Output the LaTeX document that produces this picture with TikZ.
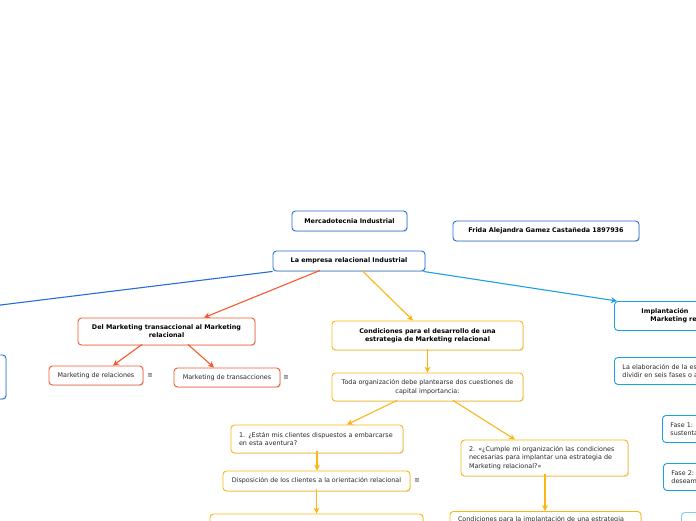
\documentclass[tikz,border=0pt]{standalone}
\usepackage{fontspec}
\setmainfont{DejaVu Sans}
\usetikzlibrary{arrows.meta,shadows}
\definecolor{cblue}{RGB}{38,110,214}
\definecolor{cred}{RGB}{242,90,45}
\definecolor{cyel}{RGB}{250,182,20}
\definecolor{clblue}{RGB}{27,160,226}
\definecolor{cpale}{RGB}{130,205,242}
\definecolor{ctext}{RGB}{40,40,40}
\tikzset{
  box/.style={draw, rounded corners=3.5pt, fill=white, line width=0.9pt, inner sep=0pt,
    text=ctext, font=\fontsize{6.4}{8.2}\selectfont, align=center,
    drop shadow={opacity=0.22, shadow xshift=0.8pt, shadow yshift=-0.9pt}},
  bbox/.style={box, font=\fontsize{6.4}{8.2}\selectfont\bfseries, text=black},
  conn/.style={line width=1.1pt, -{Stealth[length=6pt,width=6pt]}},
  menu/.style={font=\fontsize{6.5}{7}\selectfont, text=ctext, inner sep=0pt}
}
\begin{document}
\begin{tikzpicture}[x=1pt,y=-1pt]
\useasboundingbox (0,0) rectangle (696,520);
\clip (0,0) rectangle (696,520);
% blue (top)
\node[bbox, draw=cblue, minimum width=115pt, minimum height=20pt] (mi) at (349.5,221) {Mercadotecnia Industrial};
\node[bbox, draw=cblue, minimum width=186pt, minimum height=20pt] (frida) at (546,231) {Frida Alejandra Gamez Castañeda 1897936};
\node[bbox, draw=cblue, minimum width=152pt, minimum height=20pt] (emp) at (349,261) {La empresa relacional Industrial};
\node[box, draw=cblue, minimum width=60pt, minimum height=44pt] (left) at (-24,377) {};
\coordinate (offl) at (-40,310);
% red branch
\node[bbox, draw=cred, minimum width=177pt, minimum height=27pt] (del) at (166.5,331.5) {Del Marketing transaccional al Marketing\\relacional};
\node[box, draw=cred, minimum width=94pt, minimum height=19pt] (rel) at (96,375.5) {Marketing de relaciones};
\node[box, draw=cred, minimum width=106pt, minimum height=19pt] (tra) at (227,377.5) {Marketing de transacciones};
\node[menu] (m1) at (150,375.5) {≡};
\node[menu] (m2) at (286,377.5) {≡};
% yellow branch
\node[bbox, draw=cyel, minimum width=191pt, minimum height=29pt] (cond) at (427.5,335.5) {Condiciones para el desarrollo de una\\estrategia de Marketing relacional};
\node[box, draw=cyel, minimum width=191pt, minimum height=28pt] (toda) at (427.5,387) {Toda organización debe plantearse dos cuestiones de\\capital importancia:};
\node[box, draw=cyel, minimum width=172pt, minimum height=28pt, text width=156pt, align=left] (q1) at (317,439) {1. ¿Están mis clientes dispuestos a embarcarse\\en esta aventura?};
\node[box, draw=cyel, minimum width=187pt, minimum height=20pt] (disp) at (316.5,481) {Disposición de los clientes a la orientación relacional};
\node[menu] (m3) at (417,481) {≡};
\node[box, draw=cyel, minimum width=213pt, minimum height=34pt] (bot) at (316.5,531) {};
\node[box, draw=cyel, minimum width=167pt, minimum height=36pt, text width=151pt, align=left] (q2) at (544.5,458) {2. «¿Cumple mi organización las condiciones\\necesarias para implantar una estrategia de\\Marketing relacional?»};
\node[box, draw=cyel, minimum width=191pt, inner ysep=5pt, text width=175pt, align=left, anchor=north] (cimp) at (545.5,511) {Condiciones para la implantación de una estrategia\\de Marketing relacional};
% light blue branch
\node[bbox, draw=clblue, minimum width=166pt, minimum height=29pt, text width=166pt, align=left, anchor=north west] (impl) at (614,301) {\hspace*{27pt}Implantación\\\hspace*{36pt}Marketing relacional};
\node[box, draw=clblue, minimum width=200pt, minimum height=27pt, text width=200pt, align=left, anchor=north west] (elab) at (614,357) {\hspace*{8pt}La elaboración de la estrategia se puede\\\hspace*{8pt}dividir en seis fases o acciones:};
\node[box, draw=clblue, minimum width=150pt, minimum height=27pt, text width=150pt, align=left, anchor=north west] (f1) at (662,415) {\hspace*{8pt}Fase 1: Definir la\\\hspace*{8pt}sustentación};
\node[box, draw=clblue, minimum width=150pt, minimum height=27pt, text width=150pt, align=left, anchor=north west] (f2) at (663,463) {\hspace*{8pt}Fase 2: Definir\\\hspace*{8pt}deseamos};
\node[box, draw=cpale, minimum width=100pt, minimum height=30pt, anchor=north west] (f3) at (681,512) {};
% connectors
\draw[line width=1.1pt, cblue] (emp.south west) -- (offl);
\draw[conn, cred] ([xshift=-29pt,yshift=1pt]emp.south) -- ([xshift=37.5pt]del.north);
\draw[conn, cyel] ([xshift=13pt,yshift=1pt]emp.south) -- ([xshift=-14.5pt]cond.north);
\draw[conn, clblue] ([xshift=-2pt]emp.south east) -- ([xshift=3pt]impl.north west);
\draw[conn, cred] ([xshift=-24.5pt,yshift=1pt]del.south) -- ([xshift=17pt]rel.north);
\draw[conn, cred] ([xshift=21.5pt,yshift=1pt]del.south) -- ([xshift=-13pt]tra.north);
\draw[conn, cyel] ([yshift=1pt]cond.south) -- (toda.north);
\draw[conn, cyel] ([xshift=-30.5pt,yshift=1pt]toda.south) -- ([xshift=30pt]q1.north);
\draw[conn, cyel] ([xshift=25.5pt,yshift=1pt]toda.south) -- ([xshift=-29.5pt]q2.north);
\draw[conn, cyel] ([yshift=2pt]q1.south) -- (q1.south |- disp.north);
\draw[conn, cyel] ([yshift=2pt]disp.south) -- (disp.south |- bot.north);
\draw[conn, cyel] ([xshift=0.5pt,yshift=2pt]q2.south) -- ([xshift=0.5pt]q2.south |- cimp.north);
\end{tikzpicture}
\end{document}
